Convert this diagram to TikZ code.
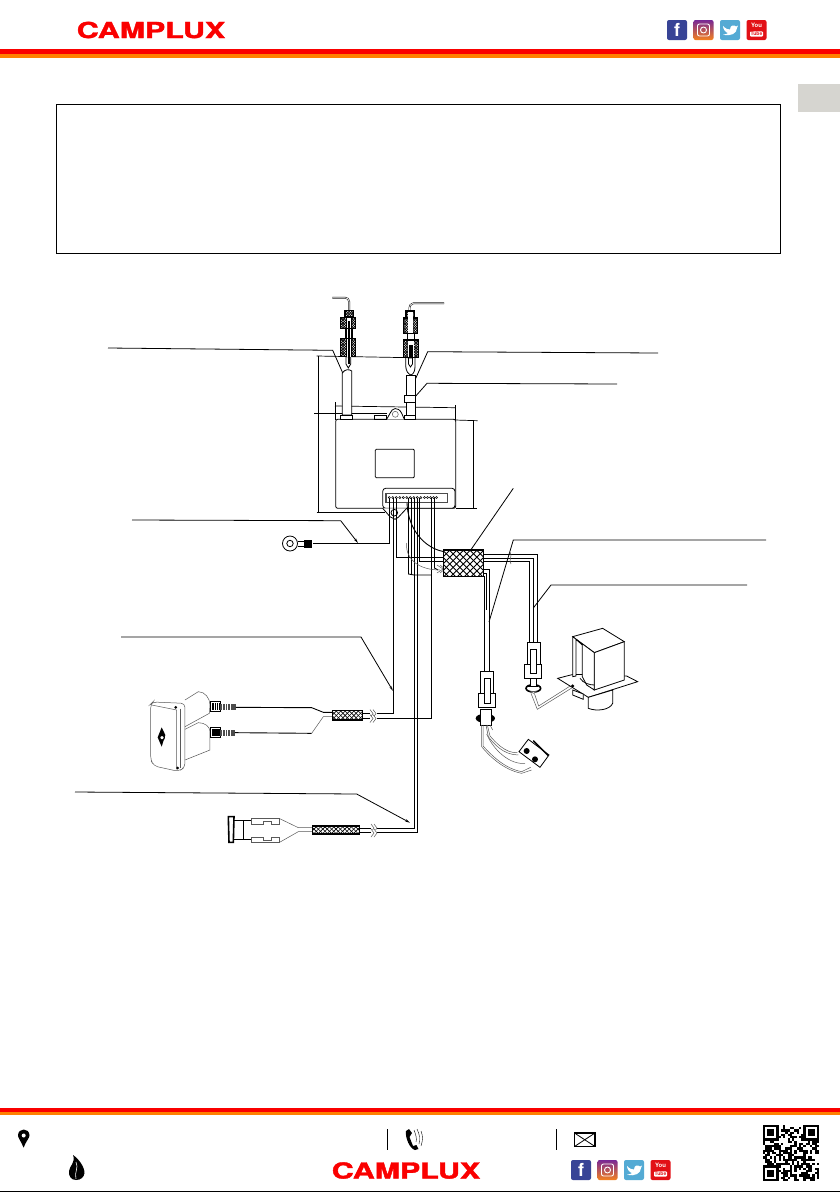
\documentclass[tikz,border=0pt]{standalone}
\usepackage{fontspec}
\setsansfont{TeX Gyre Heros}
\newfontfamily\logofont[BoldFeatures={FakeBold=1.6}]{TeX Gyre Heros}
\usepackage{tikz}
\usetikzlibrary{calc,arrows.meta}
\definecolor{bandred}{RGB}{250,0,0}
\definecolor{bandorange}{RGB}{255,128,0}
\definecolor{tabgray}{RGB}{214,213,208}
\definecolor{fbblue}{RGB}{56,68,150}
\definecolor{twblue}{RGB}{84,170,212}
\definecolor{ytred}{RGB}{226,16,22}
\definecolor{igpurple}{RGB}{120,40,150}
\definecolor{igorange}{RGB}{245,130,30}
\tikzset{
  wire/.style={line width=0.9pt,black},
  leader/.style={line width=0.8pt,black},
  tipleader/.style={leader,-{Stealth[length=5pt,width=2.5pt]}},
  dimline/.style={line width=0.7pt,black},
  part/.style={line width=0.8pt,black},
  thinpart/.style={line width=0.5pt,black!65},
  tubeline/.style={line width=0.5pt,black,double=white,double distance=0.7pt},
  meshedge/.style={line width=1.2pt,black},
  logotext/.style={font=\logofont\bfseries\fontsize{22}{22}\selectfont,text=bandred,xscale=1.38,transform shape,inner sep=0pt},
  iconbox/.style={minimum size=20pt,inner sep=0pt,rounded corners=2pt,text=white},
}
\newcommand{\meshbox}[6][0.6pt]{%
  \begin{scope}
    \clip (#2,#3) rectangle (#4,#5);
    \fill[white] (#2,#3) rectangle (#4,#5);
    \pgfmathsetmacro{\meshlen}{#4-#2+#5-#3}
    \foreach \d in {0,#6,...,\meshlen} {
      \draw[line width=#1,black] (#2+\d,#3) -- (#2+\d-\meshlen,#3+\meshlen);
      \draw[line width=#1,black] (#4-\d,#3) -- (#4-\d+\meshlen,#3+\meshlen);
    }
  \end{scope}
  \draw[meshedge] (#2,#3) rectangle (#4,#5);}
\newcommand{\iconrow}[3]{%
  \begin{scope}[shift={(#2,#3)}]
    \node[iconbox,fill=fbblue] (#1fb) at (10,10) {\sffamily\bfseries\fontsize{18}{18}\selectfont f};
    \node[iconbox,top color=igpurple,bottom color=igorange] (#1ig) at (36.5,10) {};
    \draw[white,line width=0.9pt,rounded corners=2pt] (30.5,4) rectangle (42.5,16);
    \draw[white,line width=0.9pt] (36.5,10) circle (3);
    \node[iconbox,fill=twblue] (#1tw) at (63,10) {};
    \fill[white] (56,6) .. controls (59,9) and (61,9.5) .. (63,9.5) .. controls (63,5) and (67,4.5) .. (69,6.5) -- (71,5.5) -- (70,8) .. controls (70,13) and (64,17) .. (56,14.5) .. controls (58.5,14.5) and (60,14) .. (61,13) .. controls (58.5,12.5) and (56,9) .. (56,6) -- cycle;
    \node[iconbox,fill=ytred] (#1yt) at (89.5,10) {};
    \node[inner sep=0pt,text=white,font=\sffamily\bfseries\fontsize{6}{6}\selectfont] (#1you) at (89.5,5.5) {You};
    \node[fill=white,inner sep=0.7pt,rounded corners=1pt,text=ytred,font=\sffamily\bfseries\fontsize{5}{5}\selectfont] (#1tube) at (89.5,14) {Tube};
  \end{scope}}
\newcommand{\breakmark}[2]{%
  \fill[white] (#1-2,#2-3) rectangle (#1+3,#2+3);
  \draw[thinpart] (#1-2,#2-4) -- (#1+1,#2) -- (#1-2,#2+4);
  \draw[thinpart] (#1+1,#2-4) -- (#1+4,#2) -- (#1+1,#2+4);}

\begin{document}
\begin{tikzpicture}[x=1pt,y=-1pt]
\useasboundingbox (0,0) rectangle (840,1192);
\fill[white] (0,0) rectangle (840,1192);

\coordinate (A1) at (108,348);
\coordinate (A2) at (332.7,350.3);
\coordinate (A3) at (348.5,386);
\coordinate (B1) at (658,353);
\coordinate (B2) at (427.7,351.7);
\coordinate (B3) at (410,391);
\coordinate (C1) at (617,384);
\coordinate (C2) at (427,383.3);
\coordinate (C3) at (412.3,400);
\coordinate (D1) at (132,520);
\coordinate (D2) at (340.7,520.7);
\coordinate (D3) at (358,543);
\coordinate (E1) at (513.3,488.3);
\coordinate (E2) at (465,558.3);
\coordinate (F1) at (766,540);
\coordinate (F2) at (513.3,540);
\coordinate (F3) at (489,622);
\coordinate (G1) at (747,585);
\coordinate (G2) at (551,585);
\coordinate (G3) at (533.3,608);
\coordinate (H1) at (121,637);
\coordinate (H2) at (361,637);
\coordinate (H3) at (393,691);
\coordinate (I1) at (75,792);
\coordinate (I2) at (356.7,794);
\coordinate (I3) at (410,822.7);

\fill[bandred] (0,49) rectangle (840,54);
\fill[bandorange] (0,54) rectangle (840,58);
\fill[bandred] (0,1108) rectangle (840,1111.7);
\fill[bandorange] (0,1111.7) rectangle (840,1115);
\fill[tabgray] (798,83.5) rectangle (840,112);
\draw[black,line width=1pt] (56,104.5) rectangle (780,253.5);
\draw[black,line width=1pt] (0,1191.3) -- (840,1191.3);

\node[logotext] (logotop) at (151,30) {CAMPLUX};
\node[logotext] (logobottom) at (406,1170.5) {CAMPLUX};
\iconrow{top}{667}{20}
\iconrow{bot}{571}{1160}

\draw[leader] (A1) -- (A2) -- (A3);
\draw[leader] (B1) -- (B2) -- (B3);
\draw[leader] (C1) -- (C2) -- (C3);
\draw[tipleader] (D1) -- (D2) -- (D3);
\draw[leader] (E1) -- (E2);
\draw[leader] (F1) -- (F2) -- (F3);
\draw[leader] (G1) -- (G2) -- (G3);
\draw[tipleader] (H1) -- (H2) -- (H3);
\draw[tipleader] (I1) -- (I2) -- (I3);

\draw[dimline] (316.7,356) -- (410,357.7);
\draw[dimline] (318.3,356) -- (318.3,512.3);
\draw[dimline] (314,413.3) -- (386.7,413.3);
\draw[dimline] (335,406) -- (455,407.7);
\draw[dimline] (335.7,402) -- (335.7,420);
\draw[dimline] (455,405) -- (455,420);
\draw[dimline] (455,420) -- (477.7,420.7);
\draw[dimline] (473.7,420) -- (473.7,508.3);
\draw[dimline] (455.7,508.3) -- (476.7,508.3);
\draw[dimline] (316.7,512.3) -- (385,512.3);

\draw[part,fill=white,rounded corners=2pt] (335.7,419.3) rectangle (455.7,508.3);
\draw[part,rounded corners=1pt] (375.3,449.3) rectangle (414.3,477.7);
\draw[part,fill=white] (386.7,419.3) -- (390,413.3) .. controls (392,408) and (398,406) .. (401.7,413.3) -- (404.3,419.3);
\draw[thinpart] (395.3,414.3) circle (3);
\draw[part] (374,415) rectangle (386.7,419.3);

\draw[part,fill=white] (342.3,373) .. controls (345,369) and (349,369) .. (351.7,371) -- (351.7,415) -- (342.3,415) -- cycle;
\draw[part,fill=white] (340.7,415) rectangle (352.7,419.3);
\draw[tubeline] (349.3,310) -- (349.3,302) .. controls (349.3,299) and (347,297.7) .. (345,297.7) -- (332.3,297.7);
\meshbox[0.7pt]{345}{310.5}{353.3}{316.7}{2.6}
\draw[part,fill=white] (345,328.3) rectangle (352.7,338.3);
\draw[part,fill=white] (346,356.7) -- (346,364) -- (348.3,368) -- (350.7,364) -- (350.7,356.7) -- cycle;
\meshbox[0.7pt]{340.7}{317.3}{355.7}{328.3}{2.6}
\meshbox[0.7pt]{340.7}{338.3}{355.7}{356.7}{2.6}
\fill[white] (346,317.5) rectangle (351.5,328);
\fill[white] (346,338.5) rectangle (351.5,356.5);
\draw[part] (346,317.5) -- (346,356.5);
\draw[part] (351.5,317.5) -- (351.5,356.5);
\fill[black] (347.5,321) rectangle (350,364);

\draw[part,fill=white] (406,375) -- (415,375) -- (415,395) -- (406,395) -- cycle;
\draw[part,fill=white] (404.3,395) rectangle (415,402.3);
\draw[part,fill=white] (406,402.3) rectangle (415,415.7);
\draw[part,fill=white] (404.3,415.7) rectangle (415.7,419.3);
\draw[part] (405.7,357.7) -- (405.7,366) .. controls (406,371) and (408,374) .. (411,375) .. controls (414,374) and (415,370) .. (415,366) -- (415,357.7);
\draw[tubeline] (444,303.3) -- (413.3,303.3) .. controls (411,303.3) and (409.3,305) .. (409.3,311);
\meshbox[0.7pt]{406}{311}{414.5}{318}{2.6}
\meshbox[0.7pt]{403.3}{318}{417.3}{333.3}{2.6}
\draw[part,fill=white] (407,333.3) rectangle (414,340);
\meshbox[0.7pt]{403.3}{340}{418.3}{357.7}{2.6}
\fill[white] (408,312) rectangle (413,333);
\fill[white] (408,341) rectangle (413.5,357);
\draw[part,fill=white] (408.5,358) -- (408.5,364) -- (410.5,367) -- (412.5,364) -- (412.5,358) -- cycle;
\fill[black] (409,345) rectangle (413,358);

\draw[part,fill=white,rounded corners=3pt] (382.7,488.3) -- (455,488.3) -- (455,508.3) -- (382.7,508.3) -- cycle;
\draw[part,fill=white] (382.7,508.3) -- (390,516.7) -- (395,519.3) -- (398.3,517.3) -- (406.7,508.3);
\draw[part] (394.3,512.7) circle (3.3);
\draw[black!70,line width=1.3pt,fill=white] (386,493.3) rectangle (447.3,502.7);
\foreach \n in {0,...,9} {
  \draw[black,line width=0.5pt,fill=white] (389.3+\n*3.5,497.5) circle (1.1);
}
\foreach \n in {0,...,4} {
  \draw[black,line width=0.5pt,fill=white] (424.5+\n*3,497.5) circle (1.1);
}

\draw[wire] (313,543.5) -- (389.3,543.5) -- (389.3,498);
\draw[wire] (393.5,498) -- (393.5,713) -- (377,713);
\draw[wire] (396.5,498) -- (396.5,557.3) -- (443.3,557.3);
\draw[wire] (408.5,498) -- (408.5,574) -- (414,575) -- (431.5,575);
\draw[wire] (411.7,498) -- (411.7,574);
\draw[wire] (414.2,498) -- (414.2,828.3) -- (377,828.3);
\draw[wire] (417.5,498) -- (417.5,832.7) -- (377,832.7);
\draw[wire] (419.3,498) -- (419.3,561.7) -- (443.3,561.7);
\draw[wire] (431.5,498) -- (431.5,718.3) -- (377,718.3);
\draw[wire] (434.5,498) -- (434.5,568) -- (438,570);
\draw[wire] (407,503) .. controls (408,530) and (425,548) .. (443.3,551.5);
\draw[thinpart] (406.7,543) .. controls (405,560) and (420,570) .. (440,570);
\draw[thinpart] (437,565) -- (443,569) -- (437,573);
\draw[thinpart] (440,565) -- (445,569) -- (440,573);

\draw[wire] (483.3,554) -- (537.7,554) -- (537.7,642);
\draw[wire] (483.3,558.3) -- (533.3,558.3) -- (533.3,642);
\draw[wire] (483.3,561.7) -- (529.5,561.7) -- (529.5,642);
\draw[wire] (483.3,569.3) -- (489.3,569.3) -- (489.3,672);
\draw[wire] (483.3,573) -- (486.8,573) -- (486.8,610);
\draw[wire] (483.3,576.7) -- (484.5,576.7) -- (484.5,672);
\meshbox[0.9pt]{443.3}{550}{483.3}{576.7}{6.8}
\draw[thinpart] (510,552) .. controls (513,556) and (508,560) .. (511,564);

\draw[part] (290,543.5) circle (7.5);
\draw[part] (290,543.5) circle (3.2);
\draw[part] (297.5,541) -- (305,541);
\draw[part] (297.5,546) -- (305,546);
\fill[black] (304,539.5) rectangle (312,547.5);

\begin{scope}[shift={(130,680)},x=0.3333pt,y=-0.3333pt]
\draw[thinpart,rounded corners=4pt] (62,72) -- (68,66) -- (165,70) -- (165,262) -- (145,274) -- (72,258) -- (62,240) -- cycle;
\draw[thinpart] (65,75) -- (140,90) -- (140,268);
\draw[thinpart] (150,86) -- (150,265);
\draw[thinpart] (165,60) -- (205,35) .. controls (225,35) and (240,55) .. (240,75) -- (238,100) -- (165,140);
\draw[thinpart] (165,148) -- (205,128) .. controls (225,128) and (240,140) .. (240,155) -- (240,210) -- (165,240);
\fill[black] (137,82) circle (4.5);
\fill[black] (143,264) circle (4.5);
\fill[black] (95,142) -- (106,165) -- (95,200) -- (83,172) -- cycle;
\draw[black,line width=1.2pt,fill=white] (96,173) circle (7);
\draw[part,fill=white] (240,65) rectangle (270,95);
\fill[black] (245,70) rectangle (270,90);
\foreach \t in {252,258,264} {
  \draw[white,line width=0.5pt] (\t,70) -- (\t,90);
  \draw[white,line width=0.5pt] (\t,148) -- (\t,168);
}
\fill[black!70] (270,72) rectangle (318,90);
\draw[part,fill=white] (240,143) rectangle (270,172);
\fill[black] (245,148) rectangle (270,168);
\fill[black!70] (270,150) rectangle (315,167);
\foreach \t in {277,285,293,301} {
  \draw[white,line width=0.5pt] (\t,72) -- (\t,90);
  \draw[white,line width=0.5pt] (\t,150) -- (\t,167);
}
\draw[wire] (318,82) -- (545,83) -- (580,97) -- (607,97);
\draw[wire] (315,158) -- (545,160);
\draw[thinpart] (545,160) -- (580,110) -- (607,110);
\draw[wire] (697,100) -- (730,100);
\draw[wire] (697,115) -- (730,115);
\draw[part,line width=1.6pt] (295,410) -- (297,487) -- (310,487) -- (312,410) -- cycle;
\draw[part,line width=1.6pt] (312,422) -- (365,422);
\draw[part,line width=1.6pt] (312,478) -- (365,478);
\draw[part,line width=1.6pt] (340,422) -- (340,478);
\draw[thinpart,line width=0.7pt] (365,415) -- (447,415) -- (447,432) -- (425,432) -- (425,424) -- (400,424) -- (400,432) -- (365,432) -- cycle;
\draw[thinpart,line width=0.7pt] (365,471) -- (400,471) -- (400,480) -- (425,480) -- (425,471) -- (447,471) -- (447,488) -- (365,488) -- cycle;
\draw[thinpart] (447,415) -- (505,443) -- (548,443);
\draw[thinpart] (447,488) -- (505,455) -- (548,455);
\draw[wire] (688,445) -- (730,445);
\draw[wire] (688,458) -- (730,458);
\end{scope}
\meshbox{332.3}{710.7}{362.3}{720}{4.4}
\meshbox{312.7}{826}{359.3}{834}{4.4}
\breakmark{372}{713.5}
\breakmark{372}{718.5}
\breakmark{373}{828}
\breakmark{373}{833}

\begin{scope}[shift={(460,610)},x=0.3333pt,y=-0.3333pt]
\draw[part,fill=white] (202,97) rectangle (240,190);
\draw[part,fill=white] (194,163) rectangle (245,205);
\draw[part,fill=white] (212,118) rectangle (228,190);
\draw[black,line width=1.6pt,fill=white] (220,235) ellipse [x radius=22,y radius=11];
\fill[black] (205,225) rectangle (235,232);
\draw[part,fill=white] (210,205) rectangle (230,228);
\draw[thinpart,fill=white] (213,245) -- (220,250) -- (228,245) -- cycle;
\draw[thinpart] (213,250) -- (232,298) -- (345,228);
\draw[thinpart] (223,250) -- (236,288) -- (340,222);
\draw[part,fill=white] (293,205) -- (340,193) -- (500,198) -- (533,215) -- (385,262) -- cycle;
\draw[part,fill=white] (385,262) -- (385,295) .. controls (410,305) and (450,300) .. (458,280) -- (458,240) -- cycle;
\draw[part,fill=white] (338,240) -- (338,255) -- (370,268) -- (370,252) -- cycle;
\draw[part,fill=white] (338,80) -- (428,55) -- (493,95) -- (403,128) -- cycle;
\draw[part,fill=white] (403,128) -- (493,95) -- (493,210) -- (403,240) -- cycle;
\draw[part,fill=white] (338,80) -- (403,128) -- (403,240) -- (380,225) -- (367,200) -- (367,105) -- (348,88) -- (348,198) -- (338,200) -- cycle;
\draw[part] (360,205) .. controls (370,220) and (390,225) .. (403,225);
\fill[black] (338,228) circle (5);
\draw[part,fill=white] (62,185) rectangle (100,280);
\draw[part,fill=white] (55,250) rectangle (107,292);
\draw[part,fill=white] (73,205) rectangle (90,280);
\fill[black] (76,325) ellipse [x radius=29,y radius=14];
\draw[part,fill=white] (62,298) rectangle (95,345);
\draw[thinpart] (65,345) -- (65,410) .. controls (85,435) and (130,480) .. (185,490) -- (215,480);
\draw[thinpart] (69,345) -- (69,408) .. controls (90,430) and (130,475) .. (185,485) -- (212,472);
\draw[thinpart] (78,345) -- (85,380) .. controls (100,400) and (130,435) .. (175,435);
\draw[thinpart] (82,345) -- (90,378) .. controls (105,395) and (135,430) .. (172,428);
\draw[thinpart] (90,345) -- (98,360);
\draw[thinpart] (80,372) .. controls (100,420) and (150,465) .. (195,460);
\draw[part,fill=white] (205,388) -- (267,435) -- (240,472) -- (177,425) -- cycle;
\fill[black] (200,423) circle (9);
\fill[black] (225,448) circle (9);
\draw[black,line width=1.5pt] (220,392) -- (265,437);
\end{scope}

\fill[black] (23.6,1147.7) .. controls (21,1141) and (18,1138) .. (18,1135.5) .. controls (18,1127.5) and (29.5,1127.5) .. (29.5,1135.5) .. controls (29.5,1138) and (26,1141) .. (23.6,1147.7) -- cycle;
\fill[white] (23.7,1135.5) circle (2);
\draw[black,line width=0.8pt] (387.3,1129) -- (387.3,1150);
\draw[black,line width=0.8pt] (556.5,1129) -- (556.5,1150);
\fill[black] (409,1129) -- (412,1133) -- (409.5,1137) -- (413,1146) -- (416.5,1145) -- (418.5,1149) -- (415,1150) .. controls (410,1149) and (405,1138) .. (406,1131) -- cycle;
\draw[black,line width=0.4pt] (414,1130) .. controls (416,1135) and (417,1139) .. (416,1142);
\draw[black,line width=0.4pt] (417,1129) .. controls (420,1135) and (420,1139) .. (419,1144);
\draw[black,line width=0.4pt] (421,1131) .. controls (423,1136) and (423,1140) .. (421,1146);
\draw[black,line width=1.3pt] (574.5,1133) rectangle (595,1146.5);
\draw[black,line width=0.8pt] (574.5,1133) -- (595,1146.5);
\draw[black,line width=0.8pt] (595,1133) -- (574.5,1146.5);
\fill[black] (76,1180) .. controls (71,1180) and (68.5,1176) .. (69,1171) .. controls (69.5,1166) and (76,1162) .. (73,1155) .. controls (79,1159) and (84.5,1167) .. (84.5,1173) .. controls (84,1177) and (81,1180) .. (76,1180) -- cycle;
\draw[white,line width=0.6pt] (76,1162) .. controls (79,1168) and (74,1172) .. (76,1179);

\begin{scope}[shift={(763,1125)},x=2.24pt,y=-2.24pt]
\pgfmathsetseed{11}
\foreach \i in {0,...,24} {
  \foreach \j in {0,...,24} {
    \pgfmathparse{rnd<0.5 ? 1 : 0}
    \ifnum\pgfmathresult=1
      \fill[black] (\i,\j) rectangle (\i+1,\j+1);
    \fi
  }
}
\foreach \qx/\qy in {0/0,18/0,0/18} {
  \fill[white] (\qx-0.2,\qy-0.2) rectangle (\qx+7.2,\qy+7.2);
  \fill[black] (\qx,\qy) rectangle (\qx+7,\qy+7);
  \fill[white] (\qx+1,\qy+1) rectangle (\qx+6,\qy+6);
  \fill[black] (\qx+2,\qy+2) rectangle (\qx+5,\qy+5);
}
\end{scope}
\end{tikzpicture}
\end{document}
